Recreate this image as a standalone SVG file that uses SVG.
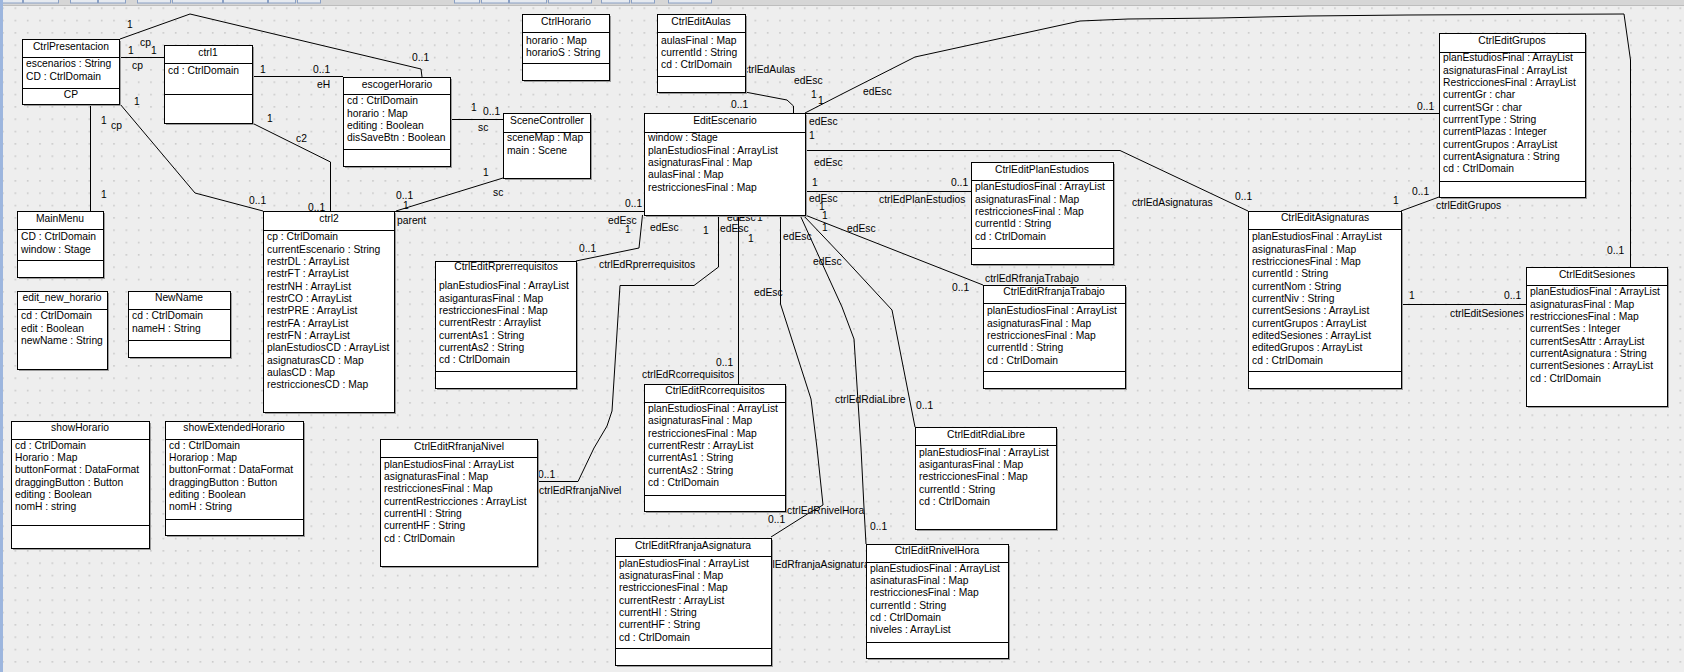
<svg xmlns="http://www.w3.org/2000/svg" width="1684" height="672" viewBox="0 0 1684 672">
<defs>
  <pattern id="grid" width="12.333" height="12.333" patternUnits="userSpaceOnUse" x="2.2" y="7.4">
    <rect width="1.6" height="1.6" fill="#c9c9c9"/>
  </pattern>
  <style>
    text { font-family: "Liberation Sans", Arial, sans-serif; font-size: 10.3px; fill: #000; }
    .tt { text-anchor: middle; }
    .sh { fill: #9c9c9c; }
    .bx { fill: #ffffff; stroke: #000; stroke-width: 1; }
    .dv { fill: none; stroke: #000; stroke-width: 1; }
    .cn polyline { fill: none; stroke: #000; stroke-width: 1; }
    .tb { fill: #e6eaf0; stroke: #8aa0c4; stroke-width: 1; }
  </style>
</defs>

<!-- canvas -->
<rect width="1684" height="672" fill="#eeeeee"/>
<rect width="1684" height="672" fill="url(#grid)"/>
<rect x="0" y="0" width="1684" height="5" fill="#d6d6d6"/>
<line x1="0" y1="5.5" x2="1684" y2="5.5" stroke="#bdbdbd"/>
<g>
  <rect class="tb" x="0.5" y="-10" width="22" height="13"/>
  <rect class="tb" x="23.5" y="-10" width="35" height="13"/>
  <rect class="tb" x="70.5" y="-10" width="27" height="13"/>
  <rect class="tb" x="98.5" y="-10" width="27" height="13"/>
  <rect class="tb" x="137.5" y="-10" width="33" height="13"/>
  <rect class="tb" x="172.5" y="-10" width="50" height="13"/>
  <rect class="tb" x="223.5" y="-10" width="44" height="13"/>
  <rect class="tb" x="268.5" y="-10" width="27" height="13"/>
  <rect class="tb" x="297.5" y="-10" width="23" height="13"/>
  <rect class="tb" x="454.5" y="-10" width="25" height="13"/>
  <rect class="tb" x="481.5" y="-10" width="27" height="13"/>
  <rect class="tb" x="509.5" y="-10" width="37" height="13"/>
  <rect class="tb" x="548.5" y="-10" width="43" height="13"/>
  <rect class="tb" x="601.5" y="-10" width="28" height="13"/>
  <rect class="tb" x="631.5" y="-10" width="23" height="13"/>
  <rect class="tb" x="668.5" y="-10" width="43" height="13"/>
</g>
<rect x="0" y="0" width="3" height="672" fill="#9db6de"/>

<!-- associations -->
<g id="connectors" class="cn">
  <polyline points="120,39 190,14 421,69 422,77"/>
  <polyline points="119,57.5 164,57.5"/>
  <polyline points="252,76.5 343,76.5"/>
  <polyline points="252,123 330.5,162 330.5,211"/>
  <polyline points="120,104 195,193 263,211"/>
  <polyline points="90.5,104 90.5,211"/>
  <polyline points="450,119.5 503,119.5"/>
  <polyline points="503,178 396,211"/>
  <polyline points="394,211.5 644,211.5"/>
  <polyline points="745,92 787,100 793.5,106 793.5,113"/>
  <polyline points="805,113 842,94 915,57 1080,21 1128,19 1218,18 1308,16 1407,15 1624,14 1630.5,60 1630.5,267"/>
  <polyline points="805,113.5 1439,113.5"/>
  <polyline points="805,150.5 1120,150.5 1248,211"/>
  <polyline points="805,191.5 971,191.5"/>
  <polyline points="1401,304.5 1526,304.5"/>
  <polyline points="1401,211 1439,197"/>
  <polyline points="642.5,215 639,248 576,261"/>
  <polyline points="718.5,215 718.5,267 694,285.5 620,285.5 612,411 607,426 594,448 578,481.5 537,481.5"/>
  <polyline points="738.5,215 738.5,384"/>
  <polyline points="780.5,215 780.5,304 811,399 817,448 823,505 809,513 771,537"/>
  <polyline points="805,215 983,285"/>
  <polyline points="803,215 842,256 892,310 915,427"/>
  <polyline points="800,215 842,307 854,339 861,448 864,508 866,544"/>
</g>

<!-- association end labels -->
<g id="edge-labels">
  <text x="127" y="27.5">1</text>
  <text x="412" y="60.5">0..1</text>
  <text x="128" y="53.5">1</text>
  <text x="140" y="46">cp</text>
  <text x="151" y="53.5">1</text>
  <text x="132" y="68.5">cp</text>
  <text x="260" y="72.5">1</text>
  <text x="313" y="72.5">0..1</text>
  <text x="317" y="87.5">eH</text>
  <text x="267" y="122">1</text>
  <text x="296" y="142">c2</text>
  <text x="308" y="211">0..1</text>
  <text x="134" y="104.5">1</text>
  <text x="249" y="203.5">0..1</text>
  <text x="101" y="123.5">1</text>
  <text x="111" y="129">cp</text>
  <text x="101" y="198">1</text>
  <text x="471" y="111">1</text>
  <text x="483" y="115">0..1</text>
  <text x="478" y="131">sc</text>
  <text x="483" y="176">1</text>
  <text x="493" y="196">sc</text>
  <text x="396" y="199">0..1</text>
  <text x="403" y="209">1</text>
  <text x="397" y="223.5">parent</text>
  <text x="625" y="207">0..1</text>
  <text x="608" y="223.5">edEsc</text>
  <text x="625" y="233">1</text>
  <text x="743" y="72.5">ctrlEdAulas</text>
  <text x="794" y="83.5">edEsc</text>
  <text x="731" y="107.5">0..1</text>
  <text x="811" y="98">1</text>
  <text x="818" y="103.5">1</text>
  <text x="863" y="95">edEsc</text>
  <text x="1607" y="254">0..1</text>
  <text x="1417" y="110">0..1</text>
  <text x="809" y="124.5">edEsc</text>
  <text x="809" y="138.5">1</text>
  <text x="814" y="166">edEsc</text>
  <text x="1132" y="206">ctrlEdAsignaturas</text>
  <text x="1235" y="200">0..1</text>
  <text x="812" y="186">1</text>
  <text x="809" y="201.5">edEsc</text>
  <text x="951" y="186">0..1</text>
  <text x="879" y="203">ctrlEdPlanEstudios</text>
  <text x="1409" y="299">1</text>
  <text x="1504" y="299">0..1</text>
  <text x="1450" y="317">ctrlEditSesiones</text>
  <text x="1393" y="204">1</text>
  <text x="1412" y="194.5">0..1</text>
  <text x="1436" y="208.5">ctrlEditGrupos</text>
  <text x="579" y="251.5">0..1</text>
  <text x="650" y="231">edEsc</text>
  <text x="599" y="267.5">ctrlEdRprerrequisitos</text>
  <text x="703" y="234">1</text>
  <text x="720" y="232">edEsc</text>
  <text x="727" y="221">edEsc</text>
  <text x="757" y="221">1</text>
  <text x="538" y="478">0..1</text>
  <text x="539" y="494">ctrlEdRfranjaNivel</text>
  <text x="748" y="242">1</text>
  <text x="716" y="366">0..1</text>
  <text x="642" y="378">ctrlEdRcorrequisitos</text>
  <text x="783" y="240">edEsc</text>
  <text x="754" y="296">edEsc</text>
  <text x="768" y="523">0..1</text>
  <text x="761" y="568">ctrlEdRfranjaAsignatura</text>
  <text x="787" y="514">ctrlEdRnivelHora</text>
  <text x="870" y="529.5">0..1</text>
  <text x="819" y="210">1</text>
  <text x="822" y="219">1</text>
  <text x="822" y="230.5">1</text>
  <text x="847" y="231.5">edEsc</text>
  <text x="813" y="265">edEsc</text>
  <text x="952" y="291">0..1</text>
  <text x="985" y="282">ctrlEdRfranjaTrabajo</text>
  <text x="835" y="402.5">ctrlEdRdiaLibre</text>
  <text x="916" y="408.5">0..1</text>
</g>

<!-- classes -->
<g id="CtrlPresentacion">
  <rect class="sh" x="24" y="41" width="97" height="65"/>
  <rect class="bx" x="22.5" y="39.5" width="97" height="65"/>
  <path class="dv" d="M22.5 57.5H119.5M22.5 88.5H119.5"/>
  <text class="tt" x="71" y="50">CtrlPresentacion</text>
  <text x="26" y="66.7">escenarios : String</text>
  <text x="26" y="80">CD : CtrlDomain</text>
  <text class="tt" x="71" y="98">CP</text>
</g>

<g id="ctrl1">
  <rect class="sh" x="166" y="47" width="88" height="78"/>
  <rect class="bx" x="164.5" y="45.5" width="88" height="78"/>
  <path class="dv" d="M164.5 63.5H252.5M164.5 94.5H252.5"/>
  <text class="tt" x="208" y="56">ctrl1</text>
  <text x="168" y="73.7">cd : CtrlDomain</text>
</g>

<g id="escogerHorario">
  <rect class="sh" x="345" y="79" width="107" height="89"/>
  <rect class="bx" x="343.5" y="77.5" width="107" height="89"/>
  <path class="dv" d="M343.5 94.5H450.5M343.5 149.5H450.5"/>
  <text class="tt" x="397" y="88">escogerHorario</text>
  <text x="347" y="104">cd : CtrlDomain</text>
  <text x="347" y="116.5">horario : Map</text>
  <text x="347" y="129">editing : Boolean</text>
  <text x="347" y="141.2">disSaveBtn : Boolean</text>
</g>

<g id="CtrlHorario">
  <rect class="sh" x="524" y="16" width="87" height="66"/>
  <rect class="bx" x="522.5" y="14.5" width="87" height="66"/>
  <path class="dv" d="M522.5 32.5H609.5M522.5 63.5H609.5"/>
  <text class="tt" x="566" y="25">CtrlHorario</text>
  <text x="526" y="43.7">horario : Map</text>
  <text x="526" y="55.7">horarioS : String</text>
</g>

<g id="CtrlEditAulas">
  <rect class="sh" x="659" y="16" width="88" height="78"/>
  <rect class="bx" x="657.5" y="14.5" width="88" height="78"/>
  <path class="dv" d="M657.5 32.5H745.5M657.5 76.5H745.5"/>
  <text class="tt" x="701" y="25">CtrlEditAulas</text>
  <text x="661" y="43.7">aulasFinal : Map</text>
  <text x="661" y="55.9">currentId : String</text>
  <text x="661" y="68.2">cd : CtrlDomain</text>
</g>

<g id="SceneController">
  <rect class="sh" x="505" y="115" width="87" height="65"/>
  <rect class="bx" x="503.5" y="113.5" width="87" height="65"/>
  <path class="dv" d="M503.5 132.5H590.5"/>
  <text class="tt" x="547" y="124">SceneController</text>
  <text x="507" y="141.4">sceneMap : Map</text>
  <text x="507" y="153.7">main : Scene</text>
</g>

<g id="EditEscenario">
  <rect class="sh" x="646" y="115" width="161" height="102"/>
  <rect class="bx" x="644.5" y="113.5" width="161" height="102"/>
  <path class="dv" d="M644.5 132.5H805.5"/>
  <text class="tt" x="725" y="124">EditEscenario</text>
  <text x="648" y="141.4">window : Stage</text>
  <text x="648" y="153.7">planEstudiosFinal : ArrayList</text>
  <text x="648" y="166.1">asignaturasFinal : Map</text>
  <text x="648" y="178.4">aulasFinal : Map</text>
  <text x="648" y="190.7">restriccionesFinal : Map</text>
</g>

<g id="MainMenu">
  <rect class="sh" x="19" y="213" width="86" height="66"/>
  <rect class="bx" x="17.5" y="211.5" width="86" height="66"/>
  <path class="dv" d="M17.5 229.5H103.5M17.5 260.5H103.5"/>
  <text class="tt" x="60" y="222">MainMenu</text>
  <text x="21" y="240.4">CD : CtrlDomain</text>
  <text x="21" y="252.7">window : Stage</text>
</g>

<g id="ctrl2">
  <rect class="sh" x="265" y="213" width="131" height="201"/>
  <rect class="bx" x="263.5" y="211.5" width="131" height="201"/>
  <path class="dv" d="M263.5 230.5H394.5"/>
  <text class="tt" x="329" y="222">ctrl2</text>
  <text x="267" y="240.4">cp : CtrlDomain</text>
  <text x="267" y="252.7">currentEscenario : String</text>
  <text x="267" y="265.1">restrDL : ArrayList</text>
  <text x="267" y="277.4">restrFT : ArrayList</text>
  <text x="267" y="289.7">restrNH : ArrayList</text>
  <text x="267" y="302.1">restrCO : ArrayList</text>
  <text x="267" y="314.4">restrPRE : ArrayList</text>
  <text x="267" y="326.7">restrFA : ArrayList</text>
  <text x="267" y="339.1">restrFN : ArrayList</text>
  <text x="267" y="351.4">planEstudiosCD : ArrayList</text>
  <text x="267" y="363.7">asignaturasCD : Map</text>
  <text x="267" y="376.1">aulasCD : Map</text>
  <text x="267" y="388.4">restriccionesCD : Map</text>
</g>

<g id="edit_new_horario">
  <rect class="sh" x="19" y="293" width="90" height="78"/>
  <rect class="bx" x="17.5" y="291.5" width="90" height="78"/>
  <path class="dv" d="M17.5 309.5H107.5"/>
  <text class="tt" x="62" y="301">edit_new_horario</text>
  <text x="21" y="319.4">cd : CtrlDomain</text>
  <text x="21" y="331.7">edit : Boolean</text>
  <text x="21" y="344">newName : String</text>
</g>

<g id="NewName">
  <rect class="sh" x="130" y="293" width="102" height="66"/>
  <rect class="bx" x="128.5" y="291.5" width="102" height="66"/>
  <path class="dv" d="M128.5 309.5H230.5M128.5 340.5H230.5"/>
  <text class="tt" x="179" y="301">NewName</text>
  <text x="132" y="319.4">cd : CtrlDomain</text>
  <text x="132" y="331.7">nameH : String</text>
</g>

<g id="showHorario">
  <rect class="sh" x="13" y="423" width="138" height="127"/>
  <rect class="bx" x="11.5" y="421.5" width="138" height="127"/>
  <path class="dv" d="M11.5 439.5H149.5M11.5 525.5H149.5"/>
  <text class="tt" x="80" y="431">showHorario</text>
  <text x="15" y="448.7">cd : CtrlDomain</text>
  <text x="15" y="461">Horario : Map</text>
  <text x="15" y="473.4">buttonFormat : DataFormat</text>
  <text x="15" y="485.7">draggingButton : Button</text>
  <text x="15" y="498">editing : Boolean</text>
  <text x="15" y="510.4">nomH : string</text>
</g>

<g id="showExtendedHorario">
  <rect class="sh" x="167" y="423" width="138" height="114"/>
  <rect class="bx" x="165.5" y="421.5" width="138" height="114"/>
  <path class="dv" d="M165.5 439.5H303.5M165.5 519.5H303.5"/>
  <text class="tt" x="234" y="431">showExtendedHorario</text>
  <text x="169" y="448.7">cd : CtrlDomain</text>
  <text x="169" y="461">Horariop : Map</text>
  <text x="169" y="473.4">buttonFormat : DataFormat</text>
  <text x="169" y="485.7">draggingButton : Button</text>
  <text x="169" y="498">editing : Boolean</text>
  <text x="169" y="510.4">nomH : String</text>
</g>

<g id="CtrlEditRfranjaNivel">
  <rect class="sh" x="382" y="441" width="157" height="127"/>
  <rect class="bx" x="380.5" y="439.5" width="157" height="127"/>
  <path class="dv" d="M380.5 457.5H537.5"/>
  <text class="tt" x="459" y="450">CtrlEditRfranjaNivel</text>
  <text x="384" y="467.7">planEstudiosFinal : ArrayList</text>
  <text x="384" y="480">asignaturasFinal : Map</text>
  <text x="384" y="492.4">restriccionesFinal : Map</text>
  <text x="384" y="504.7">currentRestricciones : ArrayList</text>
  <text x="384" y="517">currentHI : String</text>
  <text x="384" y="529.4">currentHF : String</text>
  <text x="384" y="541.7">cd : CtrlDomain</text>
</g>

<g id="CtrlEditRprerrequisitos">
  <rect class="sh" x="437" y="263" width="141" height="127"/>
  <rect class="bx" x="435.5" y="261.5" width="141" height="127"/>
  <path class="dv" d="M435.5 371.5H576.5"/>
  <text class="tt" x="506" y="270.4">CtrlEditRprerrequisitos</text>
  <text x="439" y="289.4">planEstudiosFinal : ArrayList</text>
  <text x="439" y="301.7">asiganturasFinal : Map</text>
  <text x="439" y="314.1">restriccionesFinal : Map</text>
  <text x="439" y="326.4">currentRestr : Arraylist</text>
  <text x="439" y="338.7">currentAs1 : String</text>
  <text x="439" y="351.1">currentAs2 : String</text>
  <text x="439" y="363.4">cd : CtrlDomain</text>
</g>

<g id="CtrlEditRcorrequisitos">
  <rect class="sh" x="646" y="386" width="141" height="127"/>
  <rect class="bx" x="644.5" y="384.5" width="141" height="127"/>
  <path class="dv" d="M644.5 402.5H785.5M644.5 495.5H785.5"/>
  <text class="tt" x="715" y="394">CtrlEditRcorrequisitos</text>
  <text x="648" y="412">planEstudiosFinal : ArrayList</text>
  <text x="648" y="424.3">asignaturasFinal : Map</text>
  <text x="648" y="436.7">restriccionesFinal : Map</text>
  <text x="648" y="449">currentRestr : ArrayList</text>
  <text x="648" y="461.3">currentAs1 : String</text>
  <text x="648" y="473.7">currentAs2 : String</text>
  <text x="648" y="486">cd : CtrlDomain</text>
</g>

<g id="CtrlEditPlanEstudios">
  <rect class="sh" x="973" y="164" width="142" height="102"/>
  <rect class="bx" x="971.5" y="162.5" width="142" height="102"/>
  <path class="dv" d="M971.5 180.5H1113.5M971.5 248.5H1113.5"/>
  <text class="tt" x="1042" y="172.7">CtrlEditPlanEstudios</text>
  <text x="975" y="190.4">planEstudiosFinal : ArrayList</text>
  <text x="975" y="202.7">asignaturasFinal : Map</text>
  <text x="975" y="215.1">restriccionesFinal : Map</text>
  <text x="975" y="227.4">currentId : String</text>
  <text x="975" y="239.7">cd : CtrlDomain</text>
</g>

<g id="CtrlEditRfranjaTrabajo">
  <rect class="sh" x="985" y="287" width="142" height="103"/>
  <rect class="bx" x="983.5" y="285.5" width="142" height="103"/>
  <path class="dv" d="M983.5 303.5H1125.5M983.5 371.5H1125.5"/>
  <text class="tt" x="1054" y="295.4">CtrlEditRfranjaTrabajo</text>
  <text x="987" y="314.4">planEstudiosFinal : ArrayList</text>
  <text x="987" y="326.7">asignaturasFinal : Map</text>
  <text x="987" y="339.1">restriccionesFinal : Map</text>
  <text x="987" y="351.4">currentId : String</text>
  <text x="987" y="363.7">cd : CtrlDomain</text>
</g>

<g id="CtrlEditRdiaLibre">
  <rect class="sh" x="917" y="429" width="141" height="102"/>
  <rect class="bx" x="915.5" y="427.5" width="141" height="102"/>
  <path class="dv" d="M915.5 445.5H1056.5"/>
  <text class="tt" x="986" y="437.7">CtrlEditRdiaLibre</text>
  <text x="919" y="455.7">planEstudiosFinal : ArrayList</text>
  <text x="919" y="468">asiganturasFinal : Map</text>
  <text x="919" y="480.4">restriccionesFinal : Map</text>
  <text x="919" y="492.7">currentId : String</text>
  <text x="919" y="505">cd : CtrlDomain</text>
</g>

<g id="CtrlEditRfranjaAsignatura">
  <rect class="sh" x="617" y="540" width="156" height="127"/>
  <rect class="bx" x="615.5" y="538.5" width="156" height="127"/>
  <path class="dv" d="M615.5 556.5H771.5M615.5 648.5H771.5"/>
  <text class="tt" x="693" y="549">CtrlEditRfranjaAsignatura</text>
  <text x="619" y="566.7">planEstudiosFinal : ArrayList</text>
  <text x="619" y="579">asignaturasFinal : Map</text>
  <text x="619" y="591.4">restriccionesFinal : Map</text>
  <text x="619" y="603.7">currentRestr : ArrayList</text>
  <text x="619" y="616">currentHI : String</text>
  <text x="619" y="628.4">currentHF : String</text>
  <text x="619" y="640.7">cd : CtrlDomain</text>
</g>

<g id="CtrlEditRnivelHora">
  <rect class="sh" x="868" y="546" width="142" height="114"/>
  <rect class="bx" x="866.5" y="544.5" width="142" height="114"/>
  <path class="dv" d="M866.5 562.5H1008.5M866.5 642.5H1008.5"/>
  <text class="tt" x="937" y="554">CtrlEditRnivelHora</text>
  <text x="870" y="571.7">planEstudiosFinal : ArrayList</text>
  <text x="870" y="584">asinaturasFinal : Map</text>
  <text x="870" y="596.4">restriccionesFinal : Map</text>
  <text x="870" y="608.7">currentId : String</text>
  <text x="870" y="621">cd : CtrlDomain</text>
  <text x="870" y="633.4">niveles : ArrayList</text>
</g>

<g id="CtrlEditGrupos">
  <rect class="sh" x="1441" y="35" width="146" height="164"/>
  <rect class="bx" x="1439.5" y="33.5" width="146" height="164"/>
  <path class="dv" d="M1439.5 52.5H1585.5M1439.5 181.5H1585.5"/>
  <text class="tt" x="1512" y="43.7">CtrlEditGrupos</text>
  <text x="1443" y="61.4">planEstudiosFinal : ArrayList</text>
  <text x="1443" y="73.7">asignaturasFinal : ArrayList</text>
  <text x="1443" y="86.1">RestriccionesFinal : ArrayList</text>
  <text x="1443" y="98.4">currentGr : char</text>
  <text x="1443" y="110.7">currentSGr : char</text>
  <text x="1443" y="123.1">currrentType : String</text>
  <text x="1443" y="135.4">currentPlazas : Integer</text>
  <text x="1443" y="147.7">currentGrupos : ArrayList</text>
  <text x="1443" y="160.1">currentAsignatura : String</text>
  <text x="1443" y="172.4">cd : CtrlDomain</text>
</g>

<g id="CtrlEditAsignaturas">
  <rect class="sh" x="1250" y="213" width="153" height="177"/>
  <rect class="bx" x="1248.5" y="211.5" width="153" height="177"/>
  <path class="dv" d="M1248.5 229.5H1401.5M1248.5 371.5H1401.5"/>
  <text class="tt" x="1325" y="221">CtrlEditAsignaturas</text>
  <text x="1252" y="240.4">planEstudiosFinal : ArrayList</text>
  <text x="1252" y="252.7">asignaturasFinal : Map</text>
  <text x="1252" y="265.1">restriccionesFinal : Map</text>
  <text x="1252" y="277.4">currentId : String</text>
  <text x="1252" y="289.7">currentNom : String</text>
  <text x="1252" y="302.1">currentNiv : String</text>
  <text x="1252" y="314.4">currentSesions : ArrayList</text>
  <text x="1252" y="326.7">currentGrupos : ArrayList</text>
  <text x="1252" y="339.1">editedSesiones : ArrayList</text>
  <text x="1252" y="351.4">editedGrupos : ArrayList</text>
  <text x="1252" y="363.7">cd : CtrlDomain</text>
</g>

<g id="CtrlEditSesiones">
  <rect class="sh" x="1528" y="269" width="141" height="139"/>
  <rect class="bx" x="1526.5" y="267.5" width="141" height="139"/>
  <path class="dv" d="M1526.5 285.5H1667.5"/>
  <text class="tt" x="1597" y="277.7">CtrlEditSesiones</text>
  <text x="1530" y="295.4">planEstudiosFinal : ArrayList</text>
  <text x="1530" y="307.7">asignaturasFinal : Map</text>
  <text x="1530" y="320.1">restriccionesFinal : Map</text>
  <text x="1530" y="332.4">currentSes : Integer</text>
  <text x="1530" y="344.7">currentSesAttr : ArrayList</text>
  <text x="1530" y="357.1">currentAsignatura : String</text>
  <text x="1530" y="369.4">currentSesiones : ArrayList</text>
  <text x="1530" y="381.7">cd : CtrlDomain</text>
</g>
</svg>
